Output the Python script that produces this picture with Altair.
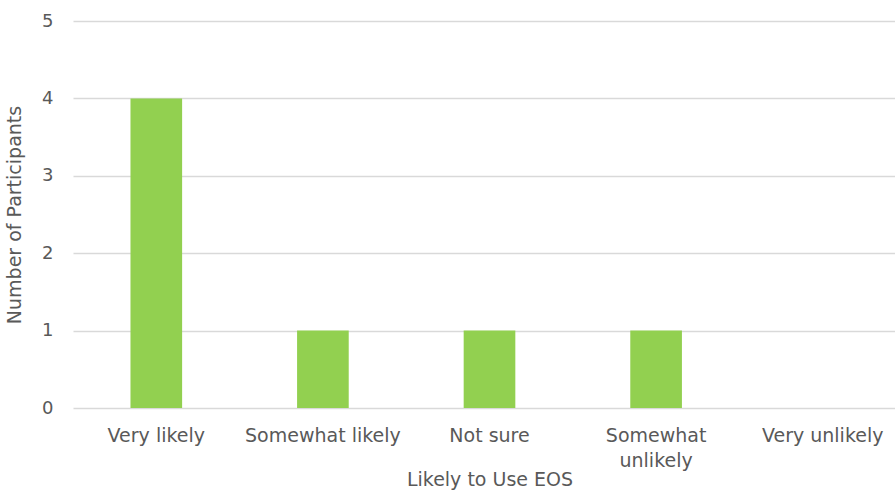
import altair as alt
import pandas as pd

categories = ["Very likely", "Somewhat likely", "Not sure", "Somewhat unlikely", "Very unlikely"]
participants = [4, 1, 1, 1, 0]

df = pd.DataFrame({"cat": categories, "n": participants})

FONT = "DejaVu Sans"
GREY = "#595959"

chart = alt.Chart(df).mark_bar(
    color="#92D050", width=alt.RelativeBandSize(0.31)
).encode(
    x=alt.X(
        "cat:N",
        sort=categories,
        scale=alt.Scale(range=[0, 833], paddingInner=0, paddingOuter=0),
        axis=alt.Axis(
            title="Likely to Use EOS",
            labelAngle=0,
            domain=False,
            ticks=False,
            labelPadding=18,
            labelFontSize=19,
            labelColor=GREY,
            labelFont=FONT,
            labelLineHeight=25,
            labelExpr="datum.label == 'Somewhat unlikely' ? ['Somewhat', 'unlikely'] : datum.label",
            titleFont=FONT,
            titleFontSize=19,
            titleFontWeight="normal",
            titleColor=GREY,
            titlePadding=0,
        ),
    ),
    y=alt.Y(
        "n:Q",
        scale=alt.Scale(domain=[0, 5]),
        axis=alt.Axis(
            title="Number of Participants",
            values=[0, 1, 2, 3, 4, 5],
            domain=False,
            ticks=False,
            labelPadding=20,
            labelFontSize=18,
            labelColor=GREY,
            labelFont=FONT,
            gridColor="#D9D9D9",
            gridWidth=1.5,
            titleFont=FONT,
            titleFontSize=19,
            titleFontWeight="normal",
            titleColor=GREY,
            titlePadding=17,
        ),
    ),
).properties(
    width=822,
    height=387,
    autosize=alt.AutoSizeParams(type="none"),
    padding={"left": 73, "top": 21, "right": 0, "bottom": 85},
).configure_view(stroke=None)

chart.save("out.html", embed_options={"renderer": "svg", "actions": False})
